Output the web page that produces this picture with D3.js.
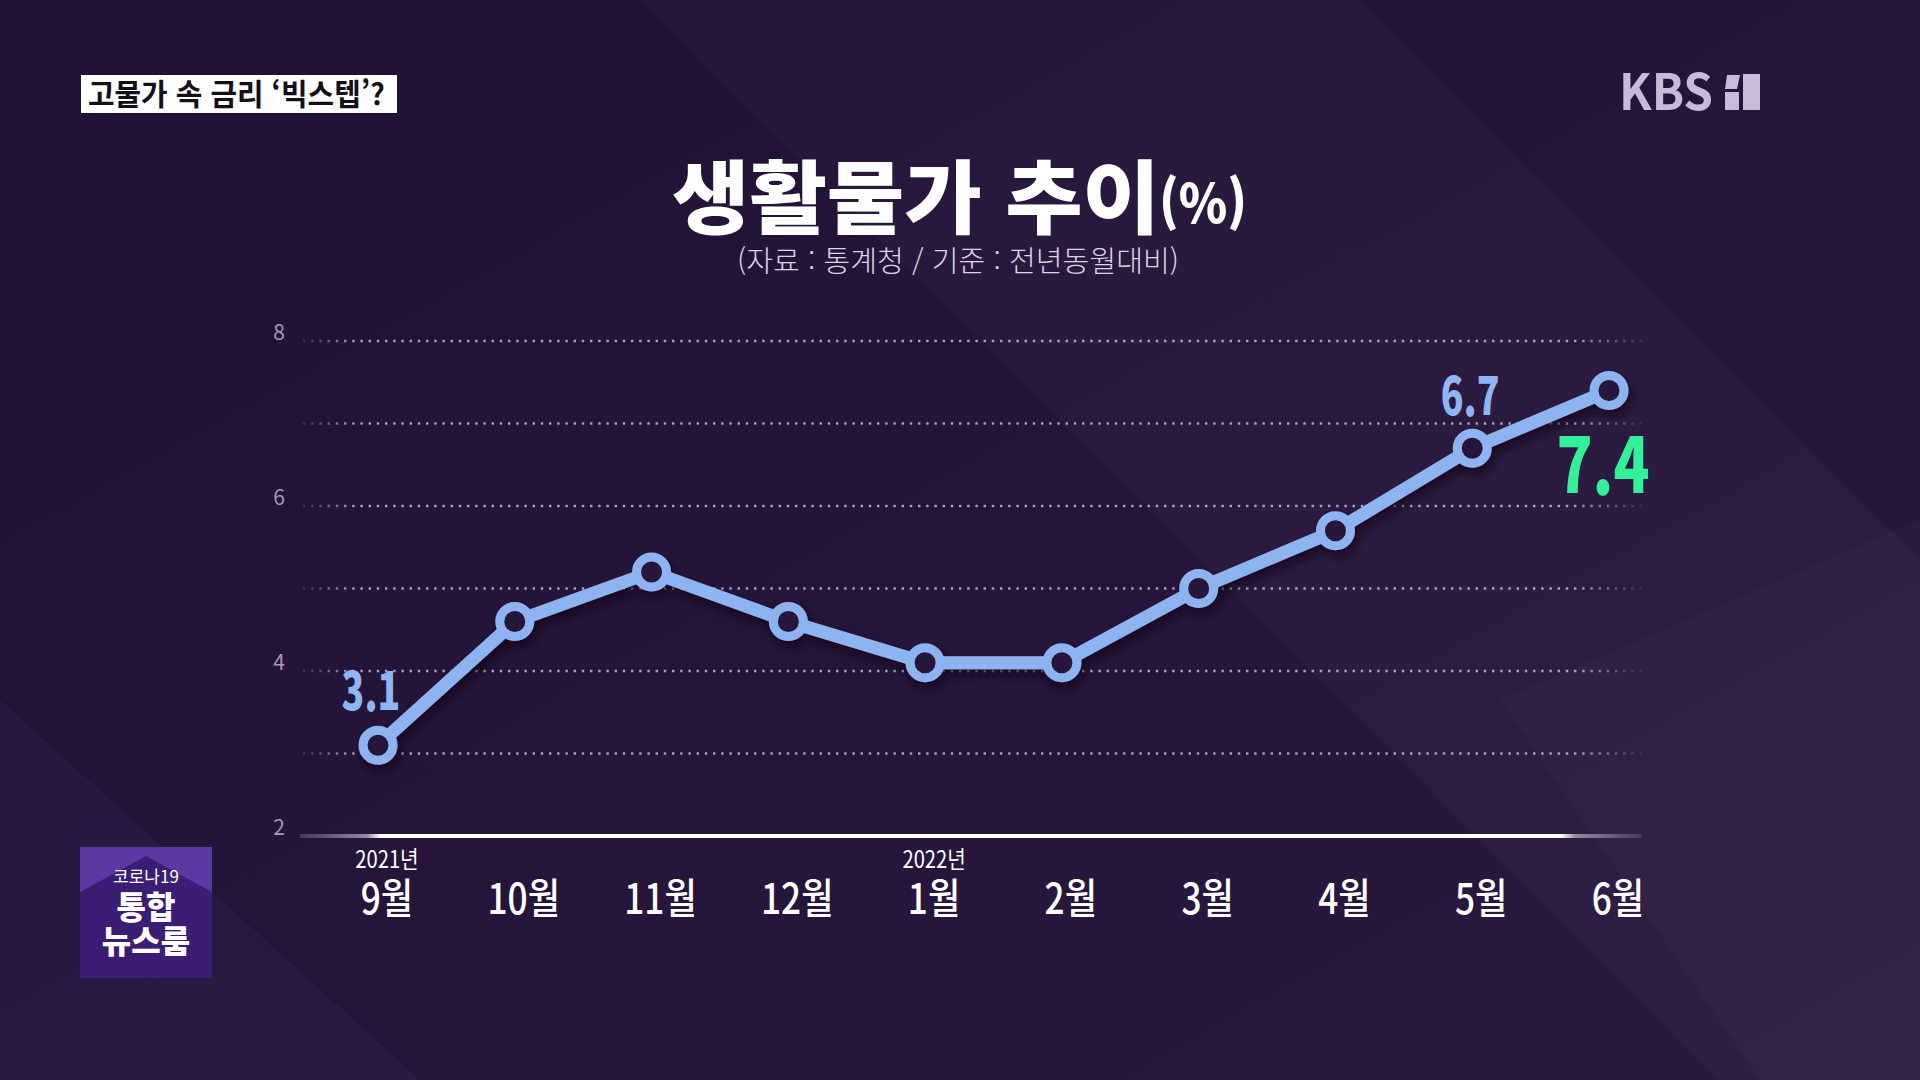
<!DOCTYPE html>
<html lang="ko">
<head>
<meta charset="utf-8">
<title>생활물가 추이</title>
<script src="https://cdn.jsdelivr.net/npm/d3@7"></script>
<style>
  html, body { margin: 0; padding: 0; background: #23143a; overflow: hidden; }
  svg { display: block; }
  text { font-family: "Noto Sans CJK KR", "Noto Sans", sans-serif; }
</style>
</head>
<body>
<script>
// data
var months = ["9월", "10월", "11월", "12월", "1월", "2월", "3월", "4월", "5월", "6월"];
var values = [3.1, 4.6, 5.2, 4.6, 4.1, 4.1, 5.0, 5.7, 6.7, 7.4];
var yearMonths = ["9월", "1월"];
var yearTexts = ["2021년", "2022년"];
var yTicks = [2, 4, 6, 8];
var gridValues = [3, 4, 5, 6, 7, 8];
var labelMonths = ["9월", "5월", "6월"];

var W = 1920, H = 1080;

var svg = d3.select("body").append("svg").attr("width", W).attr("height", H);
var defs = svg.append("defs");

// background
var bg = defs.append("linearGradient").attr("id", "bg").attr("x1", 0).attr("y1", 0).attr("x2", 1).attr("y2", 1);
bg.append("stop").attr("offset", "0%").attr("stop-color", "#1f1233");
bg.append("stop").attr("offset", "55%").attr("stop-color", "#25153b");
bg.append("stop").attr("offset", "100%").attr("stop-color", "#2a1a40");
svg.append("rect").attr("width", W).attr("height", H).attr("fill", "url(#bg)");

// soft diagonal panels
svg.append("polygon").attr("points", "640,0 1360,0 1920,560 1920,1080 1720,1080")
  .attr("fill", "#ffffff").attr("opacity", 0.022);
svg.append("polygon").attr("points", "0,700 0,1080 420,1080")
  .attr("fill", "#7a5ab0").attr("opacity", 0.07);
svg.append("polygon").attr("points", "1500,700 1920,520 1920,1080 1760,1080")
  .attr("fill", "#ffffff").attr("opacity", 0.018);

// scales
var x = d3.scalePoint().domain(months).range([378, 1609]);
var y = d3.scaleLinear().domain([2, 8]).range([836, 341]);

// grid fade
var gf = defs.append("linearGradient").attr("id", "gridfade").attr("gradientUnits", "userSpaceOnUse")
  .attr("x1", 303).attr("x2", 1642).attr("y1", 0).attr("y2", 0);
gf.append("stop").attr("offset", "0%").attr("stop-color", "#bcaccc").attr("stop-opacity", 0.15);
gf.append("stop").attr("offset", "4%").attr("stop-color", "#bcaccc").attr("stop-opacity", 0.9);
gf.append("stop").attr("offset", "95%").attr("stop-color", "#bcaccc").attr("stop-opacity", 0.9);
gf.append("stop").attr("offset", "100%").attr("stop-color", "#bcaccc").attr("stop-opacity", 0.1);

svg.append("g").selectAll("line").data(gridValues).enter().append("line")
  .attr("x1", 303).attr("x2", 1642)
  .attr("y1", function(d) { return y(d); }).attr("y2", function(d) { return y(d); })
  .attr("stroke", "url(#gridfade)").attr("stroke-width", 2.4)
  .attr("stroke-dasharray", "2.4,5.8");

// baseline
var bf = defs.append("linearGradient").attr("id", "basefade").attr("gradientUnits", "userSpaceOnUse")
  .attr("x1", 300).attr("x2", 1642).attr("y1", 0).attr("y2", 0);
bf.append("stop").attr("offset", "0%").attr("stop-color", "#ffffff").attr("stop-opacity", 0.15);
bf.append("stop").attr("offset", "5%").attr("stop-color", "#ffffff").attr("stop-opacity", 0.5);
bf.append("stop").attr("offset", "6%").attr("stop-color", "#ffffff").attr("stop-opacity", 1);
bf.append("stop").attr("offset", "94%").attr("stop-color", "#ffffff").attr("stop-opacity", 1);
bf.append("stop").attr("offset", "95%").attr("stop-color", "#ffffff").attr("stop-opacity", 0.5);
bf.append("stop").attr("offset", "100%").attr("stop-color", "#ffffff").attr("stop-opacity", 0.1);
svg.append("line").attr("x1", 300).attr("x2", 1642).attr("y1", y(2)).attr("y2", y(2))
  .attr("stroke", "url(#basefade)").attr("stroke-width", 4);

// y tick labels
svg.append("g").selectAll("text").data(yTicks).enter().append("text")
  .attr("x", 279).attr("y", function(d) { return y(d) - 1; })
  .attr("text-anchor", "middle")
  .attr("fill", "#a39ab2").attr("font-size", 21)
  .text(function(d) { return d; });

// line + markers
var shadow = defs.append("filter").attr("id", "shadow").attr("x", "-10%").attr("y", "-10%").attr("width", "130%").attr("height", "140%");
shadow.append("feDropShadow").attr("dx", 3).attr("dy", 6).attr("stdDeviation", 5)
  .attr("flood-color", "#0a0414").attr("flood-opacity", 0.7);

var pts = months.map(function(m, i) { return {m: m, v: values[i]}; });
var line = d3.line().x(function(d) { return x(d.m); }).y(function(d) { return y(d.v); });

var lg = svg.append("g").attr("filter", "url(#shadow)");
lg.append("path").datum(pts).attr("d", line)
  .attr("fill", "none").attr("stroke", "#8db4f0").attr("stroke-width", 13)
  .attr("stroke-linejoin", "round");
lg.selectAll("circle").data(pts).enter().append("circle")
  .attr("cx", function(d) { return x(d.m); }).attr("cy", function(d) { return y(d.v); })
  .attr("r", 15).attr("fill", "#28143a").attr("stroke", "#8db4f0").attr("stroke-width", 9);

// value labels
function valueOf(m) { return values[months.indexOf(m)]; }
var lab = svg.append("g");
lab.selectAll("text").data(labelMonths).enter().append("text")
  .attr("transform", function(m) {
    if (m === "6월") return "translate(" + (x(m) - 6) + "," + (y(valueOf(m)) + 102) + ") scale(0.78,1)";
    if (m === "9월") return "translate(" + (x(m) - 7) + "," + (y(valueOf(m)) - 35) + ") scale(0.72,1)";
    return "translate(" + (x(m) - 2) + "," + (y(valueOf(m)) - 33) + ") scale(0.72,1)";
  })
  .attr("text-anchor", "middle")
  .attr("font-family", "Roboto, 'Liberation Sans', sans-serif")
  .attr("font-weight", 900)
  .attr("font-size", function(m) { return m === "6월" ? 76 : 52; })
  .attr("fill", function(m) { return m === "6월" ? "#35f09a" : "#8fb5f2"; })
  .text(function(m) { return valueOf(m).toFixed(1); });

// x labels
svg.append("g").selectAll("text").data(months).enter().append("text")
  .attr("transform", function(m) { return "translate(" + (x(m) + 9) + ",914) scale(0.84,1)"; })
  .attr("text-anchor", "middle")
  .attr("fill", "#ffffff").attr("font-size", 42).attr("font-weight", 500)
  .text(function(m) { return m; });

svg.append("g").selectAll("text").data(yearMonths).enter().append("text")
  .attr("transform", function(m) { return "translate(" + (x(m) + 9) + ",868) scale(0.84,1)"; })
  .attr("text-anchor", "middle")
  .attr("fill", "#ffffff").attr("font-size", 24).attr("font-weight", 400)
  .text(function(m, i) { return yearTexts[i]; });

// title
svg.append("text").attr("x", 672).attr("y", 227)
  .attr("font-size", 80).attr("font-weight", 900).attr("fill", "#ffffff")
  .attr("textLength", 488).attr("lengthAdjust", "spacingAndGlyphs")
  .text("생활물가 추이");
svg.append("text").attr("x", 1159).attr("y", 223)
  .attr("font-size", 54).attr("font-weight", 900).attr("fill", "#ffffff")
  .attr("textLength", 88).attr("lengthAdjust", "spacingAndGlyphs")
  .text("(%)");
svg.append("text").attr("x", 737).attr("y", 272)
  .attr("font-size", 29).attr("font-weight", 300).attr("fill", "#dcd4e6")
  .attr("textLength", 442).attr("lengthAdjust", "spacingAndGlyphs")
  .text("(자료 : 통계청 / 기준 : 전년동월대비)");

// top-left caption box
svg.append("rect").attr("x", 81).attr("y", 75).attr("width", 316).attr("height", 38).attr("fill", "#ffffff");
svg.append("text").attr("x", 88).attr("y", 105)
  .attr("font-size", 30).attr("font-weight", 700).attr("fill", "#141018")
  .attr("textLength", 297).attr("lengthAdjust", "spacingAndGlyphs")
  .text("고물가 속 금리 ‘빅스텝’?");

// KBS 1 logo
svg.append("text").attr("x", 1619).attr("y", 110)
  .attr("font-family", "'Liberation Sans', Arial, sans-serif")
  .attr("font-size", 50).attr("font-weight", 700).attr("fill", "#c8bad8")
  .attr("textLength", 94).attr("lengthAdjust", "spacingAndGlyphs")
  .text("KBS");
svg.append("polygon").attr("points", "1727,75 1740,75 1737,89 1725,89").attr("fill", "#c8bad8");
svg.append("rect").attr("x", 1725).attr("y", 92).attr("width", 14).attr("height", 18).attr("fill", "#c8bad8");
svg.append("rect").attr("x", 1743).attr("y", 74).attr("width", 17).attr("height", 36).attr("fill", "#c8bad8");

// bottom-left programme badge
svg.append("rect").attr("x", 80).attr("y", 847).attr("width", 132).attr("height", 131).attr("fill", "#5a3aa2");
svg.append("polygon").attr("points", "80,892 146,856 212,892 212,978 80,978").attr("fill", "#3b1d74");
svg.append("text").attr("x", 146).attr("y", 883).attr("text-anchor", "middle")
  .attr("font-size", 17).attr("font-weight", 400).attr("fill", "#ffffff").text("코로나19");
svg.append("text").attr("x", 146).attr("y", 919).attr("text-anchor", "middle")
  .attr("font-size", 32).attr("font-weight", 900).attr("fill", "#ffffff").text("통합");
svg.append("text").attr("x", 146).attr("y", 953).attr("text-anchor", "middle")
  .attr("font-size", 32).attr("font-weight", 900).attr("fill", "#ffffff").text("뉴스룸");
</script>
</body>
</html>
